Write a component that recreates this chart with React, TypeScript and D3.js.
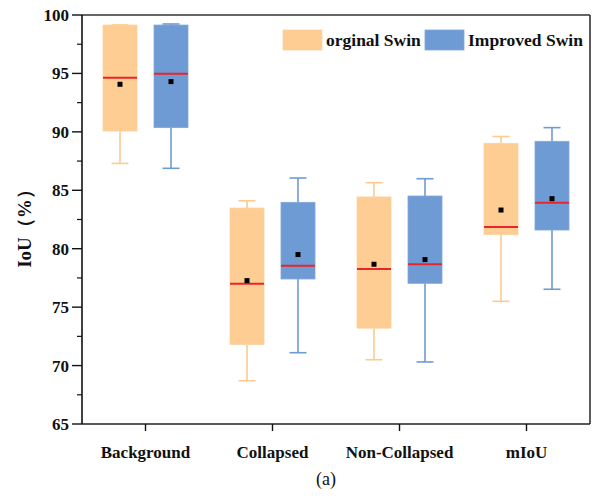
import React from "react";
import * as d3 from "d3";

const categories = ["Background", "Collapsed", "Non-Collapsed", "mIoU"];
const seriesNames = ["orginal Swin", "Improved Swin"];

const origMin = [87.3, 68.7, 70.5, 75.5];
const origQ1 = [90.07, 71.8, 73.2, 81.2];
const origMedian = [94.64, 77.0, 78.26, 81.86];
const origQ3 = [99.14, 83.48, 84.43, 89.02];
const origMax = [99.15, 84.1, 85.65, 89.6];
const origMean = [94.07, 77.27, 78.67, 83.31];

const impMin = [86.88, 71.1, 70.31, 76.53];
const impQ1 = [90.36, 77.41, 77.04, 81.6];
const impMedian = [94.98, 78.55, 78.67, 83.94];
const impQ3 = [99.14, 83.97, 84.51, 89.19];
const impMax = [99.23, 86.05, 85.99, 90.36];
const impMean = [94.3, 79.5, 79.07, 84.28];

const yTicks = [65, 70, 75, 80, 85, 90, 95, 100];
const yMinorTicks = [67.5, 72.5, 77.5, 82.5, 87.5, 92.5, 97.5];

const W = 597;
const H = 499;
const M = { left: 82, right: 590, top: 15, bottom: 424 };

const fills = ["#FECD93", "#6F9BD5"];
const strokes = ["#FDD3A0", "#7FA6DA"];
const whiskerColors = ["#FDCB8E", "#6F9BD5"];
const FONT = "'Liberation Serif', 'Times New Roman', serif";

export default function App() {
  const x = d3.scaleBand<string>().domain(categories).range([M.left, M.right]).padding(0);
  const y = d3.scaleLinear().domain([65, 100]).range([M.bottom, M.top]);
  const sub = d3.scaleBand<string>().domain(seriesNames).range([-42.5, 42.5]).paddingInner(1 / 3).paddingOuter(0);

  const series = [
    { name: seriesNames[0], min: origMin, q1: origQ1, med: origMedian, q3: origQ3, max: origMax, mean: origMean },
    { name: seriesNames[1], min: impMin, q1: impQ1, med: impMedian, q3: impQ3, max: impMax, mean: impMean },
  ];
  const bw = sub.bandwidth();
  const capHalf = 8.5;

  return (
    <svg width={W} height={H} style={{ position: "absolute", left: 0, top: 0, background: "#fff" }} fontFamily={FONT}>
      <rect x={0} y={0} width={W} height={H} fill="#fff" />
      {series.map((s, si) =>
        categories.map((c, ci) => {
          const cx = (x(c) as number) + x.bandwidth() / 2 + (sub(s.name) as number) + bw / 2;
          return (
            <g key={si + "-" + ci}>
              <line x1={cx} x2={cx} y1={y(s.max[ci])} y2={y(s.q3[ci])} stroke={whiskerColors[si]} strokeWidth={1.6} />
              <line x1={cx} x2={cx} y1={y(s.min[ci])} y2={y(s.q1[ci])} stroke={whiskerColors[si]} strokeWidth={1.6} />
              <line x1={cx - capHalf} x2={cx + capHalf} y1={y(s.max[ci])} y2={y(s.max[ci])} stroke={whiskerColors[si]} strokeWidth={1.6} />
              <line x1={cx - capHalf} x2={cx + capHalf} y1={y(s.min[ci])} y2={y(s.min[ci])} stroke={whiskerColors[si]} strokeWidth={1.6} />
              <rect
                x={cx - bw / 2}
                y={y(s.q3[ci])}
                width={bw}
                height={y(s.q1[ci]) - y(s.q3[ci])}
                fill={fills[si]}
                stroke={strokes[si]}
                strokeWidth={0.8}
              />
              <line x1={cx - bw / 2} x2={cx + bw / 2} y1={y(s.med[ci])} y2={y(s.med[ci])} stroke="#E8262A" strokeWidth={2} />
              <rect x={cx - 2.5} y={y(s.mean[ci]) - 2.5} width={5} height={5} fill="#000" />
            </g>
          );
        })
      )}
      {/* frame */}
      <line x1={M.left} x2={M.right} y1={M.top} y2={M.top} stroke="#333" strokeWidth={1.6} />
      <line x1={M.right} x2={M.right} y1={M.top} y2={M.bottom} stroke="#333" strokeWidth={1.6} />
      <line x1={M.left} x2={M.right} y1={M.bottom} y2={M.bottom} stroke="#222" strokeWidth={1.6} />
      <line x1={M.left} x2={M.left} y1={M.top} y2={M.bottom} stroke="#111" strokeWidth={1.6} />
      {/* y ticks */}
      {yTicks.map((t) => (
        <g key={"yt" + t}>
          <line x1={M.left - 10} x2={M.left} y1={y(t)} y2={y(t)} stroke="#111" strokeWidth={1.4} />
          <text x={M.left - 13} y={y(t)} dy="0.35em" textAnchor="end" fontSize={17} fontWeight="bold" fill="#111">
            {t}
          </text>
        </g>
      ))}
      {yMinorTicks.map((t) => (
        <line key={"ym" + t} x1={M.left - 5} x2={M.left} y1={y(t)} y2={y(t)} stroke="#111" strokeWidth={1.2} />
      ))}
      {/* x ticks */}
      {categories.map((c) => {
        const cx = (x(c) as number) + x.bandwidth() / 2;
        return (
          <g key={"xt" + c}>
            <line x1={cx} x2={cx} y1={M.bottom} y2={M.bottom + 7} stroke="#111" strokeWidth={1.4} />
            <text x={cx} y={458} textAnchor="middle" fontSize={17} fontWeight="bold" fill="#111">
              {c}
            </text>
          </g>
        );
      })}
      {/* y title */}
      <text
        transform={`translate(31,224) rotate(-90)`}
        textAnchor="middle"
        fontSize={19}
        fontWeight="bold"
        fill="#111"
      >
        IoU（%）
      </text>
      {/* legend */}
      <rect x={283} y={30} width={39} height={20} fill={fills[0]} stroke={strokes[0]} strokeWidth={0.8} />
      <text x={326} y={46} fontSize={17.5} fontWeight="bold" fill="#111">
        {seriesNames[0]}
      </text>
      <rect x={425} y={30} width={39} height={20} fill={fills[1]} stroke={strokes[1]} strokeWidth={0.8} />
      <text x={468} y={46} fontSize={17.5} fontWeight="bold" fill="#111">
        {seriesNames[1]}
      </text>
      {/* caption */}
      <text x={326} y={485} textAnchor="middle" fontSize={18} fill="#111">
        (a)
      </text>
    </svg>
  );
}
